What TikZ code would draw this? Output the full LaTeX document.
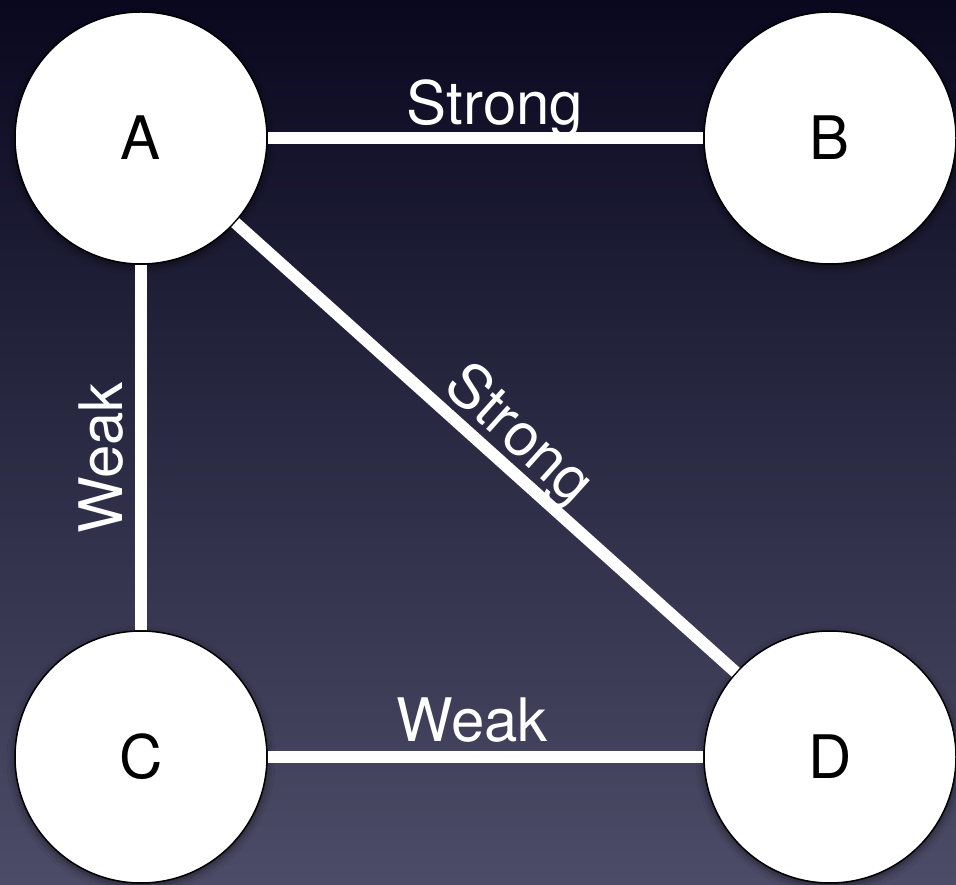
\documentclass[tikz,border=0pt]{standalone}
\usepackage{fontspec}
\setmainfont{TeX Gyre Heros}
\usetikzlibrary{shadows.blur}
\definecolor{bgtop}{HTML}{09081F}
\definecolor{bgmid}{HTML}{28274A}
\definecolor{bgbot}{HTML}{4C4C68}
\begin{document}
\begin{tikzpicture}[x=1pt,y=1pt,
  vertex/.style={circle, draw=black, line width=1.5pt, fill=white,
    minimum size=252pt, inner sep=0pt, font=\fontsize{60}{72}\selectfont,
    blur shadow={shadow xshift=0pt, shadow yshift=-3pt,
      shadow blur radius=8pt, shadow opacity=55}},
  link/.style={white, line width=12pt},
  tag/.style={text=white, font=\fontsize{60}{72}\selectfont,
    inner sep=0pt, anchor=base}]
  % background
  \shade[top color=bgtop, middle color=bgmid, bottom color=bgbot]
    (0,0) rectangle (956,884);
  \clip (0,0) rectangle (956,884);

  % vertices
  \node[vertex] (A) at (141,746) {A};
  \node[vertex] (B) at (830,746) {B};
  \node[vertex] (C) at (141,127) {C};
  \node[vertex] (D) at (830,127) {D};

  % links
  \draw[link] (A) -- (B);
  \draw[link] (A) -- (C);
  \draw[link] (A) -- (D);
  \draw[link] (C) -- (D);

  % link labels
  \node[tag] (lab) at (495,759) {Strong};
  \node[tag] (lad) at (507,436) [rotate=-41.9] {Strong};
  \node[tag] (lac) at (122,426) [rotate=90] {Weak};
  \node[tag] (lcd) at (472,142) {Weak};
\end{tikzpicture}
\end{document}
